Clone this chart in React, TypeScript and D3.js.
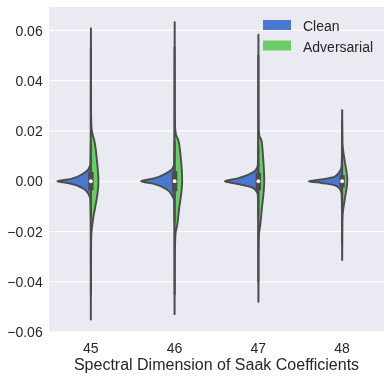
import * as d3 from 'd3';

// categories and series
const dims = ['45', '46', '47', '48'];
const hues = ['Clean', 'Adversarial'];
const hueColors = ['#4878CF', '#6ACC65'];
const yTicks = [-0.06, -0.04, -0.02, 0, 0.02, 0.04, 0.06];

// density outlines: [value, half width as share of the widest half]
const clean45: [number, number][] = [
  [-0.055, 0.003], [-0.02, 0.005], [-0.0075, 0.015], [-0.0049, 0.08], [-0.0029, 0.23], [-0.0009, 0.62],
  [0, 1.0], [0.0008, 0.62], [0.003, 0.23], [0.0046, 0.08], [0.007, 0.015], [0.02, 0.005], [0.053, 0.003],
];
const clean46: [number, number][] = [
  [-0.0529, 0.003], [-0.02, 0.005], [-0.008, 0.015], [-0.0056, 0.08], [-0.0033, 0.23], [-0.0011, 0.62],
  [0, 1.0], [0.0011, 0.62], [0.0033, 0.23], [0.0047, 0.08], [0.007, 0.015], [0.02, 0.005], [0.0533, 0.003],
];
const clean47: [number, number][] = [
  [-0.04, 0.003], [-0.015, 0.005], [-0.0055, 0.015], [-0.0036, 0.08], [-0.0023, 0.23], [-0.0011, 0.62],
  [0, 1.0], [0.0011, 0.62], [0.003, 0.23], [0.0044, 0.08], [0.0065, 0.015], [0.02, 0.005], [0.05, 0.003],
];
const clean48: [number, number][] = [
  [-0.025, 0.003], [-0.012, 0.005], [-0.005, 0.015], [-0.0029, 0.08], [-0.0016, 0.23], [-0.0007, 0.62],
  [0, 1.0], [0.0007, 0.62], [0.0017, 0.23], [0.0037, 0.08], [0.006, 0.015], [0.012, 0.005], [0.024, 0.003],
];

const adv45: [number, number][] = [
  [-0.045, 0.003], [-0.03, 0.005], [-0.0215, 0.012], [-0.0183, 0.035], [-0.0143, 0.075], [-0.0103, 0.13],
  [-0.0048, 0.2], [0, 0.225], [0.0083, 0.18], [0.0163, 0.1], [0.019, 0.045], [0.022, 0.015],
  [0.03, 0.005], [0.0608, 0.003],
];
const adv46: [number, number][] = [
  [-0.045, 0.003], [-0.03, 0.006], [-0.021, 0.025], [-0.018, 0.07], [-0.0115, 0.13], [0, 0.225],
  [0.0097, 0.18], [0.0163, 0.11], [0.0185, 0.04], [0.022, 0.012], [0.03, 0.006], [0.0633, 0.003],
];
const adv47: [number, number][] = [
  [-0.048, 0.003], [-0.03, 0.005], [-0.0215, 0.015], [-0.018, 0.05], [-0.0115, 0.1], [0, 0.175],
  [0.0097, 0.14], [0.0163, 0.09], [0.018, 0.03], [0.021, 0.01], [0.03, 0.005], [0.0583, 0.003],
];
const adv48: [number, number][] = [
  [-0.0314, 0.003], [-0.02, 0.005], [-0.014, 0.012], [-0.0115, 0.03], [-0.0075, 0.075], [0.0004, 0.155],
  [0.0083, 0.075], [0.0123, 0.03], [0.0135, 0.02], [0.015, 0.01], [0.0282, 0.003],
];

const cleanProfiles = [clean45, clean46, clean47, clean48];
const advProfiles = [adv45, adv46, adv47, adv48];

// inner box (both hues pooled)
const boxQ1 = [-0.0036, -0.004, -0.0036, -0.0025];
const boxQ3 = [0.0037, 0.004, 0.0033, 0.0024];
const whiskLo = [-0.0145, -0.016, -0.0135, -0.0098];
const whiskHi = [0.0147, 0.016, 0.0135, 0.0097];
const medians = [0, 0, 0, 0];

const W = 391, H = 380;
const font = "'Liberation Sans', Arial, sans-serif";
const gray = '#4c4c4c';
const textCol = '#262626';

export default function App() {
  const x = d3.scaleBand<string>().domain(dims).range([49, 384]).padding(0);
  const y = d3.scaleLinear().domain([-0.06, 0.0693]).range([332, 7]);
  const hw = x.bandwidth() * 0.4;
  const fmt = d3.format('.2f');

  const half = (cx: number, side: number) =>
    d3.area<[number, number]>()
      .curve(d3.curveMonotoneY)
      .y(d => y(d[0]))
      .x0(cx)
      .x1(d => cx + side * d[1] * hw);

  return (
    <div style={{ position: 'fixed', left: 0, top: 0 }}>
      <svg width={W} height={H} style={{ display: 'block', fontFamily: font }}>
        <rect x={49} y={7} width={335} height={325} fill="#EAEAF2" />
        {yTicks.map(t => (
          <line key={t} x1={49} x2={384} y1={y(t)} y2={y(t)} stroke="#fff" strokeWidth={1.1} />
        ))}

        {dims.map((d, i) => {
          const cx = x(d)! + x.bandwidth() / 2;
          return (
            <g key={d}>
              <path d={half(cx, -1)(cleanProfiles[i]) || ''} fill={hueColors[0]} stroke={gray} strokeWidth={1.9} strokeLinejoin="round" />
              <path d={half(cx, 1)(advProfiles[i]) || ''} fill={hueColors[1]} stroke={gray} strokeWidth={1.9} strokeLinejoin="round" />
              <line x1={cx} x2={cx} y1={y(whiskLo[i])} y2={y(whiskHi[i])} stroke={gray} strokeWidth={1.9} />
              <rect x={cx - 2.7} width={5.4} y={y(boxQ3[i])} height={y(boxQ1[i]) - y(boxQ3[i])} fill={gray} />
              <circle cx={cx} cy={y(medians[i])} r={1.9} fill="#fff" />
            </g>
          );
        })}

        {yTicks.map(t => (
          <text key={t} x={42.7} y={y(t) + 5.2} textAnchor="end" fontSize={14} fill={textCol}>
            {fmt(t)}
          </text>
        ))}
        {dims.map(d => (
          <text key={d} x={x(d)! + x.bandwidth() / 2} y={353} textAnchor="middle" fontSize={14} fill={textCol}>
            {d}
          </text>
        ))}
        <text x={216.5} y={370} textAnchor="middle" fontSize={16} fill={textCol}>
          Spectral Dimension of Saak Coefficients
        </text>

        {hues.map((h, i) => (
          <g key={h}>
            <rect x={263} y={20 + i * 20.5} width={28} height={10} fill={hueColors[i]} />
            <text x={303} y={31 + i * 20.5} fontSize={14} fill={textCol}>{h}</text>
          </g>
        ))}
      </svg>
    </div>
  );
}
